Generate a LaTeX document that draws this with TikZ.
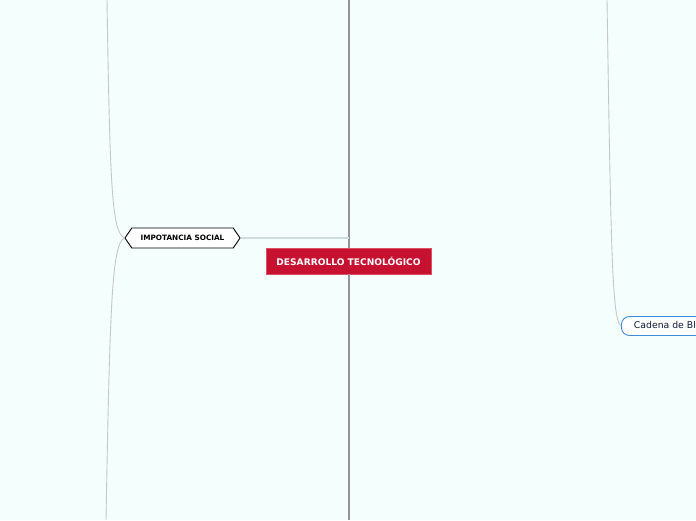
\documentclass[tikz,border=0pt]{standalone}
\usepackage{fontspec}
\setmainfont{DejaVu Sans}
\usetikzlibrary{shapes.symbols}
\definecolor{bg}{RGB}{244,254,252}
\definecolor{crimson}{RGB}{198,17,48}
\definecolor{crimsonb}{RGB}{220,80,100}
\definecolor{trunk}{RGB}{150,150,150}
\definecolor{branch}{RGB}{196,200,200}
\definecolor{hline}{RGB}{206,220,220}
\definecolor{blueb}{RGB}{60,140,220}
\definecolor{navy}{RGB}{16,24,56}
\tikzset{
  central/.style={rectangle, fill=crimson, draw=crimsonb, line width=0.6pt, text=white,
    font=\fontsize{9.1}{11}\selectfont\bfseries, minimum width=165pt, minimum height=26pt, inner sep=0pt},
  hexnode/.style={signal, signal to=west and east, signal pointer angle=112, draw=black, fill=white,
    line width=0.9pt, font=\fontsize{7.3}{9}\selectfont\bfseries, minimum width=115pt, minimum height=20pt, inner sep=0pt},
  roundnode/.style={rectangle, rounded corners=8pt, draw=blueb, fill=white, line width=0.9pt, text=navy,
    font=\fontsize{9.3}{11}\selectfont, minimum height=19pt, inner xsep=12.5pt, inner ysep=0pt, anchor=west},
  trunkline/.style={draw=trunk, line width=2pt},
  branchline/.style={draw=branch, line width=0.9pt},
  hlinestyle/.style={draw=hline, line width=1.6pt}
}
\begin{document}
\begin{tikzpicture}[x=1pt,y=-1pt]
\fill[bg] (0,0) rectangle (696,520);
\useasboundingbox (0,0) rectangle (696,520);
\clip (0,0) rectangle (696,520);
% nodes
\node[central] (root) at (348.5,261) {DESARROLLO TECNOLÓGICO};
\node[hexnode] (social) at (182.5,238) {IMPOTANCIA SOCIAL};
\node[roundnode] (cadena) at (621,326) {Cadena de Bloques};
% free ends
\coordinate (ttop) at (348.5,0);
\coordinate (tbot) at (348.5,520);
\coordinate (hend) at (348.5,238);
\coordinate (ltop) at (107,0);
\coordinate (lbot) at (106,520);
\coordinate (rtop) at (607,0);
% connectors
\draw[trunkline] (ttop) -- (root.north);
\draw[trunkline] (root.south) -- (tbot);
\draw[hlinestyle] (social.east) -- (hend);
\draw[branchline] (ltop) .. controls (110,190) and (112,232) .. (social.west);
\draw[branchline] (social.west) .. controls (112,244) and (110,300) .. (lbot);
\draw[branchline] (rtop) .. controls (611,250) and (612,320) .. (cadena.west);
\end{tikzpicture}
\end{document}
